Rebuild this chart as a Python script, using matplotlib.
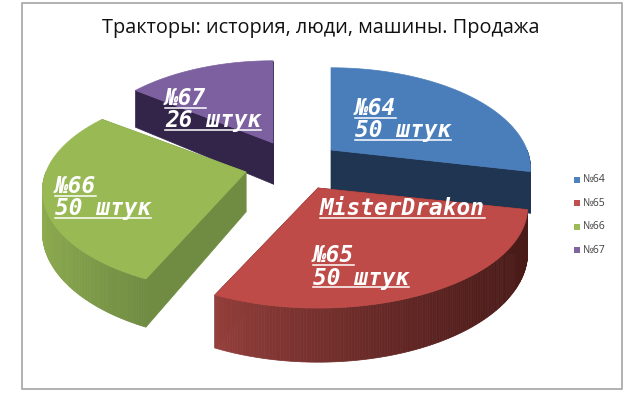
#!/usr/bin/env python3
import numpy as np
import matplotlib
matplotlib.use('Agg')
import matplotlib.pyplot as plt
from matplotlib.patches import Rectangle

title = 'Тракторы: история, люди, машины. Продажа'
names = ['№64', '№65', '№66', '№67']
values = [50, 50, 50, 26]
units = ['50 штук', '50 штук', '50 штук', '26 штук']

# looks, in pixels of the 638x401 picture
apex = [(331, 150), (318, 188), (246, 172), (273, 143)]
depth = [40, 44, 40, 41]
widths = [196, 206, 200, 191]
top_colors = ['#4a7ebb', '#be4b48', '#98b954', '#7d60a0']
legend_colors = ['#4f81bd', '#c0504d', '#9bbb59', '#8064a2']
cut_colors = ['#1f3552', '#4e1c1a', '#6f8c42', '#33254a']
rim_light = ['#3a6192', '#96403d', '#8dab4f', '#5f4880']
rim_dark = ['#1f3552', '#481a18', '#6f8c42', '#33254a']
label_pos = [(355, 115), (313, 262), (55, 193), (165, 105)]
draw_order = [3, 2, 0, 1]

B, P = 97.6, 0.187


def project(theta, c, A):
    X, Y = np.cos(theta), np.sin(theta)
    s = 1 / (1 + P * Y)
    return c[0] + A * X * s, c[1] - B * Y * s, s


def mix(c1, c2, t):
    c1 = np.array(matplotlib.colors.to_rgb(c1))
    c2 = np.array(matplotlib.colors.to_rgb(c2))
    return tuple(c1 + (c2 - c1) * t)


plt.rcParams['font.family'] = ['Open Sans', 'DejaVu Sans']
fig = plt.figure(figsize=(6.38, 4.01), dpi=100)
ax = fig.add_axes([0, 0, 1, 1])
ax.set_xlim(0, 638)
ax.set_ylim(401, 0)
ax.axis('off')

ax.add_patch(Rectangle((22, 2.5), 600, 386, fc='white', ec='#a6a6a6', lw=1.2))
ax.text(320.5, 28, title, ha='center', va='center', fontsize=14.3, color='#111111')

# slices go clockwise from the top, sweep comes from the values
sweep = np.array(values) / sum(values) * 2 * np.pi
ends = np.pi / 2 - np.cumsum(sweep)
starts = ends + sweep

for i in draw_order:
    c = apex[i]
    d = depth[i]
    t = np.linspace(starts[i], ends[i], 160)
    x, y, s = project(t, c, widths[i])

    # cut faces
    for j in (0, -1):
        ax.fill([c[0], x[j], x[j], c[0]],
                [c[1], y[j], y[j] + d * s[j], c[1] + d],
                color=cut_colors[i], lw=0.5, zorder=2 + draw_order.index(i))

    # rim, drawn as strips to get the shading
    lo, hi = x.min(), x.max()
    for k in range(len(t) - 1):
        if np.sin((t[k] + t[k + 1]) / 2) < 0:
            shade = ((x[k] + x[k + 1]) / 2 - lo) / max(hi - lo, 1)
            ax.fill([x[k], x[k + 1], x[k + 1], x[k]],
                    [y[k], y[k + 1], y[k + 1] + d * s[k + 1], y[k] + d * s[k]],
                    color=mix(rim_light[i], rim_dark[i], shade ** 0.8), lw=0.5,
                    zorder=2 + draw_order.index(i))

    ax.fill(np.r_[c[0], x], np.r_[c[1], y], color=top_colors[i], lw=0.5,
            zorder=2.5 + draw_order.index(i))


def underlined(px, py, text):
    lab = ax.text(px, py, text, color='white', family='DejaVu Sans Mono', fontsize=16.4,
                  style='italic', weight='bold', va='baseline', ha='left', zorder=20)
    box = lab.get_window_extent(fig.canvas.get_renderer())
    ax.plot([box.x0, box.x1], [py + 2.5, py + 2.5], color='white', lw=1.1, zorder=20)


for i in range(4):
    px, py = label_pos[i]
    underlined(px, py, names[i])
    underlined(px, py + 22.5, units[i])
underlined(320, 215, 'MisterDrakon')

# legend
for i, name in enumerate(names):
    yy = 180 + i * 23.4
    ax.add_patch(Rectangle((574, yy - 3), 6, 6, fc=legend_colors[i], ec='none', zorder=5))
    ax.text(583, yy, name, fontsize=7.6, va='center', ha='left', color='#404040')

plt.savefig('out.png', dpi=100)
